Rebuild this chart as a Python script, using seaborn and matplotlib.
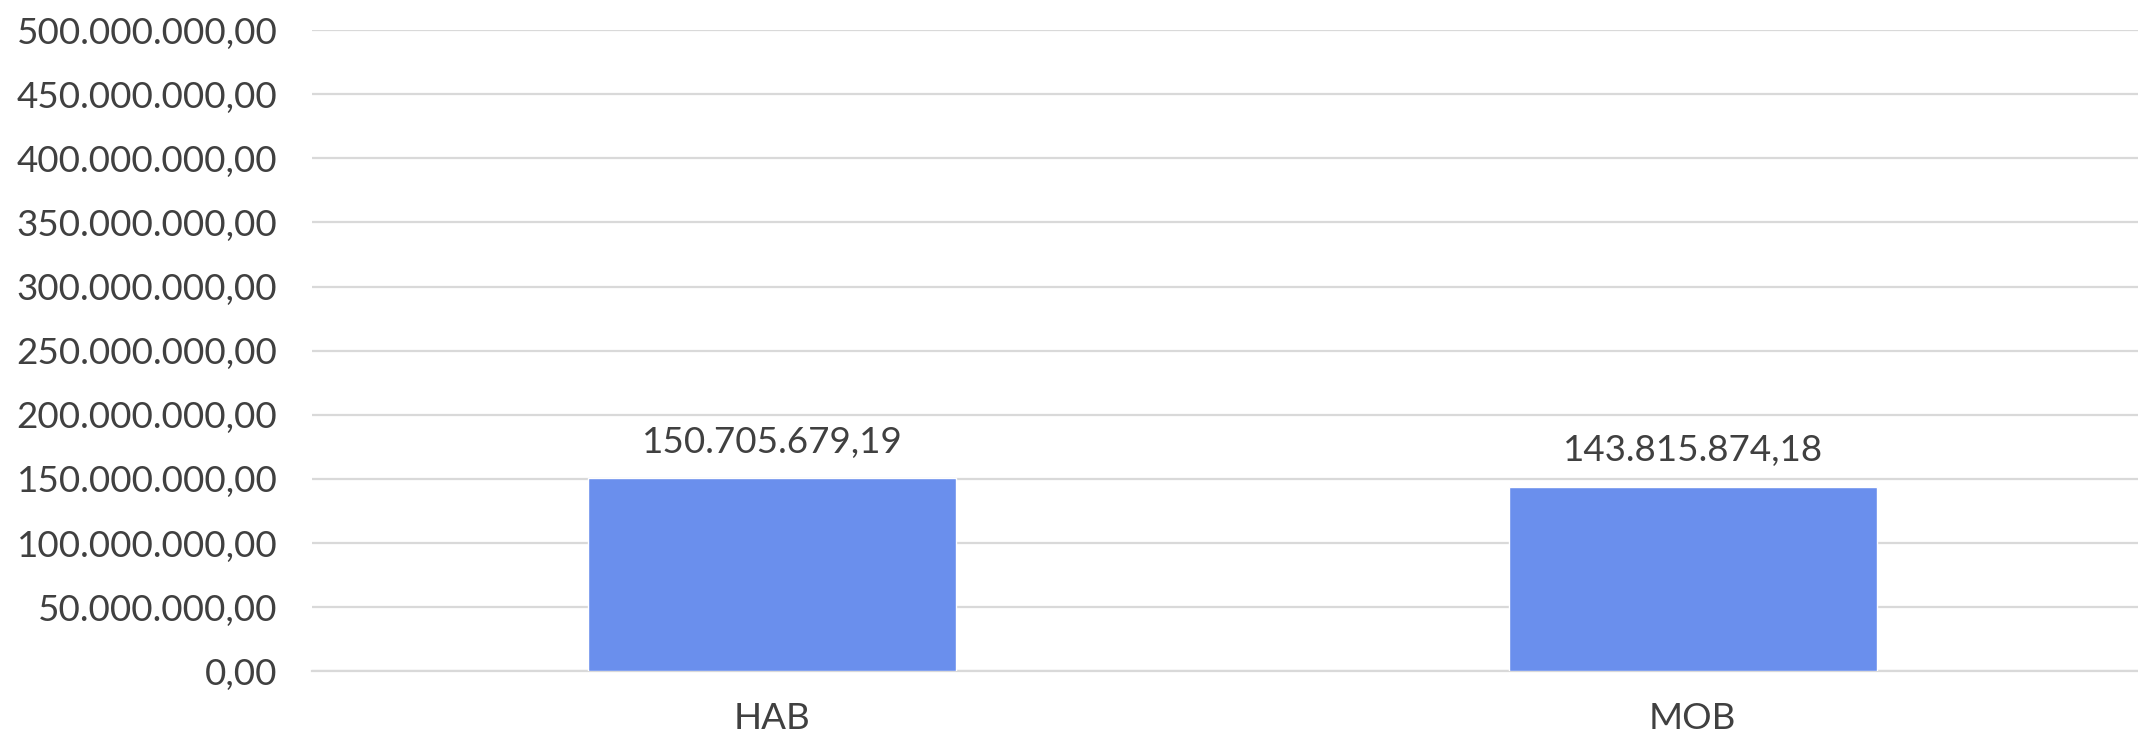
import matplotlib
matplotlib.use("Agg")
import matplotlib.pyplot as plt
import seaborn as sns
import pandas as pd
from matplotlib.ticker import FuncFormatter

# Data
categories = ["HAB", "MOB"]
values = [150705679.19, 143815874.18]

df = pd.DataFrame({"categoria": categories, "valor": values})

sns.set_style("white")
plt.rcParams["font.family"] = ["Lato", "DejaVu Sans"]

text_color = "#404040"
grid_color = "#D9D9D9"
bar_color = "#6A8FED"


def br_fmt(v, pos=None):
    s = f"{v:,.2f}"
    return s.replace(",", "X").replace(".", ",").replace("X", ".")


fig = plt.figure(figsize=(21.38, 7.36), dpi=100)
ax = fig.add_axes([0.146, 0.088, 0.861, 0.871])

sns.barplot(data=df, x="categoria", y="valor", color=bar_color, width=0.4,
            saturation=1, ax=ax, zorder=3)

ax.set_ylim(0, 500000000)
ax.set_yticks(range(0, 500000001, 50000000))
ax.yaxis.set_major_formatter(FuncFormatter(br_fmt))
ax.grid(axis="y", color=grid_color, linewidth=1.6, zorder=0)
ax.set_axisbelow(True)
for s in ["top", "right", "left"]:
    ax.spines[s].set_visible(False)
ax.spines["bottom"].set_color(grid_color)
ax.spines["bottom"].set_linewidth(1.6)

ax.tick_params(axis="both", length=0, labelsize=26.5, colors=text_color)
ax.tick_params(axis="y", pad=25)
ax.tick_params(axis="x", pad=22)
ax.set_xlabel("")
ax.set_ylabel("")

for i, v in enumerate(values):
    ax.annotate(br_fmt(v), (i, v), xytext=(0, 14), textcoords="offset points",
                ha="center", va="bottom", fontsize=26.5, color=text_color)

fig.savefig("out.png", dpi=100)
